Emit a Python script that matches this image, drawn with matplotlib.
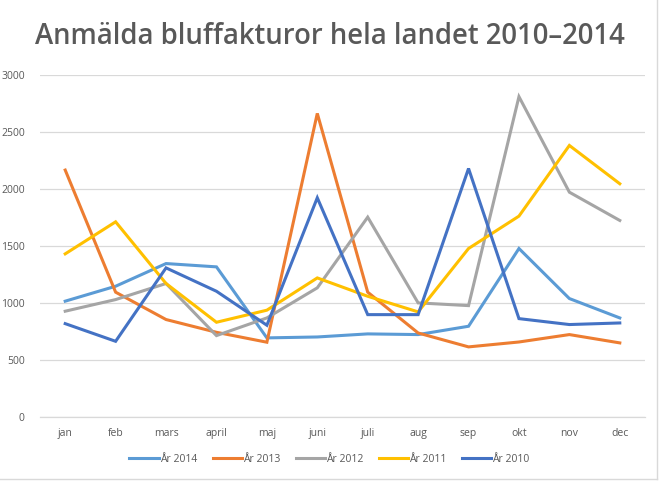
import matplotlib.pyplot as plt
from matplotlib.lines import Line2D

# ==== data ====
months = ["jan", "feb", "mars", "april", "maj", "juni",
          "juli", "aug", "sep", "okt", "nov", "dec"]
ar_2014 = [1016, 1147, 1346, 1317, 694, 702, 729, 723, 796, 1478, 1039, 869]
ar_2013 = [2166, 1095, 855, 743, 656, 2663, 1095, 737, 615, 658, 723, 650]
ar_2012 = [928, 1030, 1171, 714, 869, 1133, 1753, 1001, 977, 2810, 1972, 1724]
ar_2011 = [1431, 1712, 1171, 831, 937, 1220, 1059, 922, 1478, 1762, 2382, 2046]
ar_2010 = [819, 664, 1308, 1103, 805, 1923, 898, 898, 2180, 863, 811, 825]

series = [
    ("År 2014", ar_2014, "#5B9BD5"),
    ("År 2013", ar_2013, "#ED7D31"),
    ("År 2012", ar_2012, "#A5A5A5"),
    ("År 2011", ar_2011, "#FFC000"),
    ("År 2010", ar_2010, "#4472C4"),
]

plt.rcParams["font.family"] = ["Open Sans", "DejaVu Sans"]
text_col = "#595959"
grid_col = "#D9D9D9"

fig = plt.figure(figsize=(6.59, 4.82), dpi=100)
ax = fig.add_axes([40 / 659, 65 / 482, 605 / 659, 342 / 482])

x = list(range(len(months)))
for name, vals, col in series:
    ax.plot(x, vals, color=col, linewidth=2.2, label=name, solid_joinstyle="miter")

ax.set_xlim(-0.5, len(months) - 0.5)
ax.set_ylim(0, 3000)
ax.set_yticks(range(0, 3001, 500))
ax.set_xticks(x)
ax.set_xticklabels(months)
ax.grid(axis="y", color=grid_col, linewidth=0.9)
ax.set_axisbelow(True)
for s in ["top", "right", "left"]:
    ax.spines[s].set_visible(False)
ax.spines["bottom"].set_color(grid_col)
ax.spines["bottom"].set_linewidth(0.9)
ax.tick_params(axis="both", length=0, colors=text_col, labelsize=7.5)
ax.tick_params(axis="y", pad=11)
ax.tick_params(axis="x", pad=8)

fig.text(0.5, 0.925, "Anmälda bluffakturor hela landet 2010–2014",
         ha="center", va="center", fontsize=19.8, color=text_col, fontweight="semibold")

leg = fig.legend(loc="center", bbox_to_anchor=(0.5, 23 / 482), ncol=5, frameon=False,
                 fontsize=7.5, handlelength=2.8, handletextpad=0.1, columnspacing=1.5)
for t in leg.get_texts():
    t.set_color(text_col)

# chart frame edges visible in the screenshot
fig.add_artist(Line2D([0, 657 / 659], [3 / 482, 3 / 482], color=grid_col, linewidth=1,
                      transform=fig.transFigure))
fig.add_artist(Line2D([657 / 659, 657 / 659], [3 / 482, 1], color=grid_col, linewidth=1,
                      transform=fig.transFigure))

fig.savefig("out.png", dpi=100)
